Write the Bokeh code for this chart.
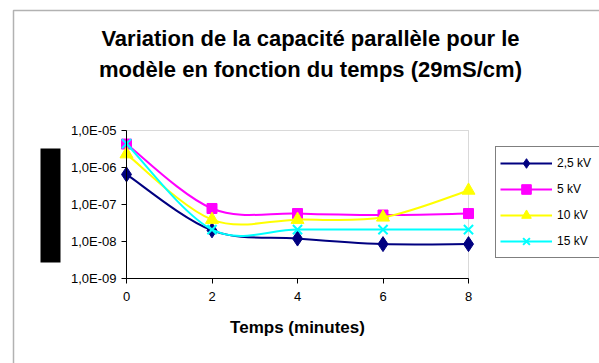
from bokeh.plotting import figure
from bokeh.models import (Range1d, FixedTicker, CustomJSTickFormatter, Legend, LegendItem,
                          Label, BoxAnnotation, ColumnDataSource)
from bokeh.embed import file_html
from bokeh.resources import INLINE
import numpy as np

# ---- data ----
temps = [0, 2, 4, 6, 8]
c_2_5kv = [6.5e-7, 2.0e-8, 1.2e-8, 8.5e-9, 8.5e-9]
c_5kv = [4.3e-6, 7.8e-8, 5.7e-8, 5.2e-8, 5.7e-8]
c_10kv = [2.3e-6, 3.9e-8, 3.9e-8, 4.5e-8, 2.4e-7]
c_15kv = [4.4e-6, 2.1e-8, 2.1e-8, 2.1e-8, 2.1e-8]
series_names = ["2,5 kV", "5 kV", "10 kV", "15 kV"]
y_ticks = [1e-9, 1e-8, 1e-7, 1e-6, 1e-5]
x_ticks = [0, 2, 4, 6, 8]
title_lines = ["Variation de la capacité parallèle pour le",
               "modèle en fonction du temps (29mS/cm)"]
x_title = "Temps (minutes)"

FONT = "Liberation Sans"
W, H = 599, 363
# plot-area placement on the canvas (pixels)
PX0, PX1 = 126, 468     # x = 0 .. 8
PY_TOP, PY_BOT = 130, 278  # y = 1e-5 .. 1e-9

xmin, xmax = x_ticks[0], x_ticks[-1]
lmin, lmax = np.log10(y_ticks[0]), np.log10(y_ticks[-1])
ppx = (PX1 - PX0) / (xmax - xmin)
ppd = (PY_BOT - PY_TOP) / (lmax - lmin)


def dx(px):
    return xmin + (px - PX0) / ppx


def dy(py):
    return 10 ** (lmax - (py - PY_TOP) / ppd)


p = figure(width=W, height=H, output_backend="svg", toolbar_location=None,
           y_axis_type="log", x_range=Range1d(dx(0), dx(W)), y_range=Range1d(dy(H), dy(0)),
           min_border=0)
p.title = None
p.grid.visible = False
p.outline_line_color = None
p.background_fill_color = "white"
p.border_fill_color = "white"

for ax in (p.xaxis[0], p.yaxis[0]):
    ax.axis_line_color = "black"
    ax.axis_line_width = 1
    ax.major_tick_line_color = "black"
    ax.major_tick_in = 0
    ax.major_tick_out = 5
    ax.minor_tick_line_color = None
    ax.major_label_text_font = FONT
    ax.major_label_text_font_size = "13px"
    ax.major_label_text_color = "black"

p.xaxis.fixed_location = y_ticks[0]
p.xaxis.bounds = (xmin, xmax)
p.xaxis.ticker = FixedTicker(ticks=x_ticks)
p.xaxis.major_label_standoff = 8
p.xaxis.axis_label = x_title
p.xaxis.axis_label_text_font = FONT
p.xaxis.axis_label_text_font_size = "17px"
p.xaxis.axis_label_text_font_style = "bold"
p.xaxis.axis_label_text_color = "black"
p.xaxis.axis_label_standoff = 14

p.yaxis.fixed_location = xmin
p.yaxis.bounds = (y_ticks[0], y_ticks[-1])
p.yaxis.ticker = FixedTicker(ticks=y_ticks)
p.yaxis.major_label_standoff = 5
p.yaxis.formatter = CustomJSTickFormatter(code="""
const e = Math.round(Math.log10(tick));
const s = e < 0 ? "-" : "+";
return "1,0E" + s + String(Math.abs(e)).padStart(2, "0");
""")

# plot-area outline (grey, top/right visible)
p.add_layout(BoxAnnotation(left=xmin, right=xmax, bottom=y_ticks[0], top=y_ticks[-1],
                           fill_alpha=0, line_color="#808080", line_width=1,
                           level="underlay"))
# outer chart border and the black block at the left
p.add_layout(BoxAnnotation(left=dx(13), right=dx(640), bottom=dy(420), top=dy(10),
                           fill_alpha=0, line_color="black", line_width=1.5,
                           level="underlay"))
p.add_layout(BoxAnnotation(left=dx(40), right=dx(60), bottom=dy(262), top=dy(148),
                           fill_color="black", fill_alpha=1, line_color=None))


def smooth_segments(xs, ys, t=1.0 / 6.0):
    lx = np.array(xs, dtype=float)
    ly = np.log10(np.array(ys, dtype=float))
    n = len(lx)
    out = {k: [] for k in ("x0", "y0", "x1", "y1", "cx0", "cy0", "cx1", "cy1")}
    for i in range(n - 1):
        im1 = max(i - 1, 0)
        ip2 = min(i + 2, n - 1)
        c0x = lx[i] + (lx[i + 1] - lx[im1]) * t
        c0y = ly[i] + (ly[i + 1] - ly[im1]) * t
        c1x = lx[i + 1] - (lx[ip2] - lx[i]) * t
        c1y = ly[i + 1] - (ly[ip2] - ly[i]) * t
        out["x0"].append(lx[i]); out["y0"].append(10 ** ly[i])
        out["x1"].append(lx[i + 1]); out["y1"].append(10 ** ly[i + 1])
        out["cx0"].append(c0x); out["cy0"].append(10 ** c0y)
        out["cx1"].append(c1x); out["cy1"].append(10 ** c1y)
    return ColumnDataSource(out)


styles = [
    dict(color="#000080", marker="diamond", size=15, lw=1),
    dict(color="#FF00FF", marker="square", size=10, lw=1),
    dict(color="#FFFF00", marker="triangle", size=13, lw=1),
    dict(color="#00FFFF", marker="x", size=13, lw=2),
]
values = [c_2_5kv, c_5kv, c_10kv, c_15kv]
items = []
for name, vals, st in zip(series_names, values, styles):
    src = smooth_segments(temps, vals)
    p.bezier(x0="x0", y0="y0", x1="x1", y1="y1", cx0="cx0", cy0="cy0", cx1="cx1",
             cy1="cy1", source=src, line_color=st["color"], line_width=2)
    lr = p.line(temps, vals, line_color=st["color"], line_width=2)
    lr.visible = False
    sr = p.scatter(temps, vals, marker=st["marker"], size=st["size"],
                   fill_color=st["color"], line_color=st["color"], line_width=st["lw"])
    items.append(LegendItem(label=name, renderers=[lr, sr]))

legend = Legend(items=items, location=(495, H - 258), border_line_color="black",
                border_line_width=1, padding=4, spacing=2, margin=0,
                glyph_width=52, glyph_height=24, label_height=24, label_width=60,
                label_standoff=5, label_text_font=FONT, label_text_font_size="12px",
                label_text_color="black", background_fill_color="white",
                background_fill_alpha=1)
p.add_layout(legend, "center")

for line, py in zip(title_lines, (38, 69)):
    p.add_layout(Label(x=dx(310), y=dy(py), text=line, text_align="center",
                       text_baseline="middle", text_font=FONT, text_font_size="22px",
                       text_font_style="bold", text_color="black"))

open("out.html", "w").write(file_html(p, INLINE))
